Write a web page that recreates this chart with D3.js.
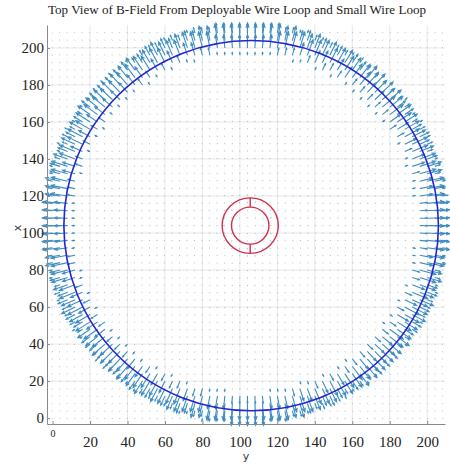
<!DOCTYPE html>
<html>
<head>
<meta charset="utf-8">
<script src="https://cdn.jsdelivr.net/npm/d3@7"></script>
<style>
  body { margin: 0; background: #fff; }
  svg { display: block; }
</style>
</head>
<body>
<svg id="chart" width="450" height="467"></svg>
<script>
// axis ticks
var xTicks = [0, 20, 40, 60, 80, 100, 120, 140, 160, 180, 200];
var yTicks = [0, 20, 40, 60, 80, 100, 120, 140, 160, 180, 200];

// quiver sample grid (start, stop, step), same for both directions
var gridRange = [0, 208, 4];

// deployable loop as drawn: center [horizontal, vertical] and radius
var bigLoopCenter = [106, 104];
var bigLoopRadius = 100;
// the arrow band sits a little up and left of the drawn wire
var fieldCenter = [103, 105.5];

// small loop: center and the two ring radii
var smallLoopCenter = [105.5, 104];
var smallLoopRadii = [10, 15];

// outward arrow length (data units), per 2-unit bin of
// signed distance from the field ring, first bin starting at -10
var binStart = -10;
var bigArrowLen = [1.5, 4, 7, 9, 9, 8, 5.5, 3, 1.5];
// arrow length per 2-unit band of distance from the small loop ring
var smallArrowLen = [1.0, 0.8];
var dotLen = 0.6;

var svg = d3.select("#chart");

var x = d3.scaleLinear().domain([-3, 209.5]).range([47, 445]);
var y = d3.scaleLinear().domain([-3.2, 212.4]).range([424, 25]);

// title
svg.append("text")
  .attr("x", 237).attr("y", 14)
  .attr("text-anchor", "middle")
  .attr("textLength", 378).attr("lengthAdjust", "spacingAndGlyphs")
  .style("font-family", "Liberation Serif, Times New Roman, serif")
  .style("font-size", "12.5px")
  .style("fill", "#222")
  .text("Top View of B-Field From Deployable Wire Loop and Small Wire Loop");

// grid lines
var grid = svg.append("g").attr("class", "grid");
grid.selectAll("line.gx")
  .data(xTicks.slice(1))
  .enter().append("line")
  .attr("x1", function(d) { return x(d); }).attr("x2", function(d) { return x(d); })
  .attr("y1", y(-3.2)).attr("y2", y(212.4))
  .style("stroke", "#e8e8e8").style("stroke-width", 1);
grid.selectAll("line.gy")
  .data(yTicks.slice(1))
  .enter().append("line")
  .attr("x1", x(-3)).attr("x2", x(209.5))
  .attr("y1", function(d) { return y(d); }).attr("y2", function(d) { return y(d); })
  .style("stroke", "#e8e8e8").style("stroke-width", 1);

// build the quiver vectors
var gridVals = d3.range(gridRange[0], gridRange[1] + 0.001, gridRange[2]);
var arrows = [];
gridVals.forEach(function(gx) {
  gridVals.forEach(function(gy) {
    var dx = gx - fieldCenter[0], dy = gy - fieldCenter[1];
    var r = Math.sqrt(dx * dx + dy * dy);
    var bin = Math.floor((r - bigLoopRadius - binStart) / 2);
    var len = (bin >= 0 && bin < bigArrowLen.length) ? bigArrowLen[bin] : dotLen;
    var ux = dx / r, uy = dy / r;

    var sx = gx - smallLoopCenter[0], sy = gy - smallLoopCenter[1];
    var sr = Math.sqrt(sx * sx + sy * sy);
    var sd = Math.abs(sr - (smallLoopRadii[0] + smallLoopRadii[1]) / 2);
    var sband = Math.floor(sd / 2);
    if (sr > 0 && sband < smallArrowLen.length && len <= dotLen) {
      len = smallArrowLen[sband];
      ux = sx / sr; uy = sy / sr;
    }
    arrows.push({x0: gx, y0: gy, x1: gx + ux * len, y1: gy + uy * len, len: len});
  });
});

// quiver
var quiver = svg.append("g").attr("class", "quiver");
quiver.selectAll("path")
  .data(arrows)
  .enter().append("path")
  .attr("d", function(d) {
    var px0 = x(d.x0), py0 = y(d.y0), px1 = x(d.x1), py1 = y(d.y1);
    var p = "M" + px0 + "," + py0 + "L" + px1 + "," + py1;
    if (d.len > 1.2) {
      var ang = Math.atan2(py1 - py0, px1 - px0);
      var hl = Math.max(1.5, Math.hypot(px1 - px0, py1 - py0) * 0.25);
      var a1 = ang + Math.PI - 0.4, a2 = ang + Math.PI + 0.4;
      p += "M" + (px1 + hl * Math.cos(a1)) + "," + (py1 + hl * Math.sin(a1)) +
           "L" + px1 + "," + py1 +
           "L" + (px1 + hl * Math.cos(a2)) + "," + (py1 + hl * Math.sin(a2));
    }
    return p;
  })
  .style("fill", "none")
  .style("stroke", function(d) { return d.len > 1.2 ? "#3f8dc0" : "#9ab6ca"; })
  .style("stroke-width", function(d) { return d.len > 1.2 ? 1.1 : 0.9; });

// wire loops
svg.append("ellipse")
  .attr("cx", x(bigLoopCenter[0])).attr("cy", y(bigLoopCenter[1]))
  .attr("rx", x(bigLoopRadius) - x(0)).attr("ry", y(0) - y(bigLoopRadius))
  .style("fill", "none").style("stroke", "#2424d0").style("stroke-width", 1.6);

svg.selectAll("ellipse.small")
  .data(smallLoopRadii)
  .enter().append("ellipse")
  .attr("class", "small")
  .attr("cx", x(smallLoopCenter[0])).attr("cy", y(smallLoopCenter[1]))
  .attr("rx", function(d) { return x(d) - x(0); })
  .attr("ry", function(d) { return y(0) - y(d); })
  .style("fill", "none").style("stroke", "#d0304a").style("stroke-width", 1.4);

// connectors between the two small rings (top and bottom)
[1, -1].forEach(function(s) {
  svg.append("line")
    .attr("x1", x(smallLoopCenter[0])).attr("x2", x(smallLoopCenter[0]))
    .attr("y1", y(smallLoopCenter[1] + s * smallLoopRadii[0]))
    .attr("y2", y(smallLoopCenter[1] + s * smallLoopRadii[1]))
    .style("stroke", "#d0304a").style("stroke-width", 1.4);
});

// axes
var xAxis = svg.append("g")
  .attr("transform", "translate(0," + y(-3.2) + ")")
  .call(d3.axisBottom(x).tickValues(xTicks).tickSize(-3).tickSizeOuter(0).tickPadding(12));
var yAxis = svg.append("g")
  .attr("transform", "translate(" + x(-3) + ",0)")
  .call(d3.axisLeft(y).tickValues(yTicks).tickSize(-3).tickSizeOuter(0).tickPadding(3));

[xAxis, yAxis].forEach(function(a) {
  a.select(".domain").style("stroke", "#8a8a8a");
  a.selectAll(".tick line").style("stroke", "#8a8a8a");
  a.selectAll(".tick text")
    .style("font-family", "Liberation Serif, Times New Roman, serif")
    .style("font-size", "15px")
    .style("fill", "#222");
});
xAxis.selectAll(".tick text").attr("dy", "0.7em");
// the x-axis zero label is drawn small and raised
xAxis.selectAll(".tick text").filter(function(d) { return d === 0; })
  .style("font-size", "10px").attr("y", 6);

// axis labels
svg.append("text")
  .attr("transform", "translate(21,228) rotate(-90)")
  .attr("text-anchor", "middle")
  .style("font-family", "DejaVu Sans, sans-serif")
  .style("font-size", "11px").style("fill", "#333")
  .text("x");
svg.append("text")
  .attr("x", 246).attr("y", 460)
  .attr("text-anchor", "middle")
  .style("font-family", "DejaVu Sans, sans-serif")
  .style("font-size", "11px").style("fill", "#333")
  .text("y");
</script>
</body>
</html>
